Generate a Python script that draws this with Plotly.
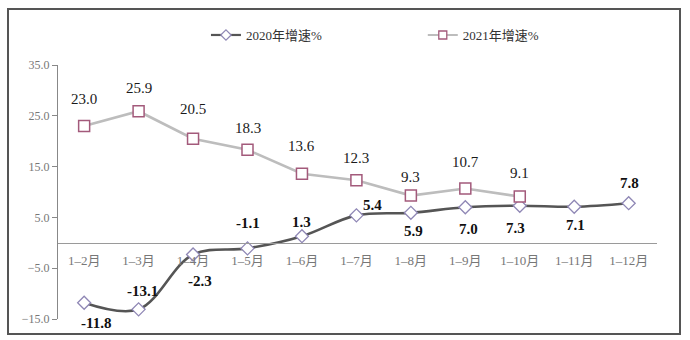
import plotly.graph_objects as go

# Month ranges (cumulative, Jan to ...)
months = ["1–2月", "1–3月", "1–4月", "1–5月", "1–6月", "1–7月",
          "1–8月", "1–9月", "1–10月", "1–11月", "1–12月"]

# Growth rates, %
growth_2020 = [-11.8, -13.1, -2.3, -1.1, 1.3, 5.4, 5.9, 7.0, 7.3, 7.1, 7.8]
growth_2021 = [23.0, 25.9, 20.5, 18.3, 13.6, 12.3, 9.3, 10.7, 9.1]

name_2020 = "2020年增速%"
name_2021 = "2021年增速%"

y_ticks = [-15, -5, 5, 15, 25, 35]

# Label offsets in pixels (x, y) for each point
offsets_2020 = [(12, -20), (4, 18), (7, -27), (0, 25), (0, 14), (16, 10),
                (3, -18), (3, -22), (-4, -22), (1, -18), (1, 20)]
offsets_2021 = [(0, 27), (0, 23), (0, 30), (0, 22), (0, 28), (0, 22),
                (0, 19), (0, 26), (0, 24)]

SERIF = "Liberation Serif, Times New Roman, Noto Sans CJK SC, serif"

C2020_LINE, C2020_MARK = "#555555", "#8f87b5"
C2021_LINE, C2021_MARK = "#bdbdbd", "#a35a7b"

fig = go.Figure()

fig.add_trace(go.Scatter(
    x=months, y=growth_2020, name=name_2020, showlegend=False,
    mode="lines+markers",
    line=dict(color=C2020_LINE, width=2.6, shape="spline", smoothing=1.0),
    marker=dict(symbol="diamond", size=10, color="white",
                line=dict(color=C2020_MARK, width=1.3)),
    cliponaxis=False,
))

fig.add_trace(go.Scatter(
    x=months[:len(growth_2021)], y=growth_2021, name=name_2021, showlegend=False,
    mode="lines+markers",
    line=dict(color=C2021_LINE, width=2.6),
    marker=dict(symbol="square", size=11, color="white",
                line=dict(color=C2021_MARK, width=1.5)),
    cliponaxis=False,
))

# Compact legend keys (smaller symbols than on the plot)
fig.add_trace(go.Scatter(
    x=[None], y=[None], name=name_2020, legend="legend",
    mode="lines+markers",
    line=dict(color=C2020_LINE, width=2.2),
    marker=dict(symbol="diamond", size=8, color="white",
                line=dict(color=C2020_MARK, width=1.2)),
))
fig.add_trace(go.Scatter(
    x=[None], y=[None], name=name_2021, legend="legend2",
    mode="lines+markers",
    line=dict(color=C2021_LINE, width=2.2),
    marker=dict(symbol="square", size=8, color="white",
                line=dict(color=C2021_MARK, width=1.3)),
))

annotations = []
for i, v in enumerate(growth_2020):
    dx, dy = offsets_2020[i]
    annotations.append(dict(
        x=months[i], y=v, text=f"{v:.1f}", showarrow=False,
        xshift=dx, yshift=dy,
        font=dict(family=SERIF, size=15, color="#111111", weight="bold"),
    ))
for i, v in enumerate(growth_2021):
    dx, dy = offsets_2021[i]
    annotations.append(dict(
        x=months[i], y=v, text=f"{v:.1f}", showarrow=False,
        xshift=dx, yshift=dy,
        font=dict(family=SERIF, size=15, color="#1a1a1a"),
    ))

y_min, y_max = -15, 35
zero_pos = (0 - y_min) / (y_max - y_min)

legend_style = dict(
    orientation="h", xanchor="left", y=1.118, yanchor="middle",
    font=dict(family=SERIF, size=13, color="#333333"),
    itemwidth=30,
    bgcolor="rgba(0,0,0,0)",
)

fig.update_layout(
    width=690, height=340,
    margin=dict(l=58, r=33, t=65, b=21),
    paper_bgcolor="white", plot_bgcolor="white",
    font=dict(family=SERIF),
    showlegend=True,
    legend=dict(x=0.247, **legend_style),
    legend2=dict(x=0.609, **legend_style),
    xaxis=dict(
        type="category", range=[-0.48, 10.52],
        anchor="free", position=zero_pos,
        showline=True, linecolor="#9a9a9a", linewidth=1,
        showgrid=False, zeroline=False,
        ticks="outside", ticklen=6, tickcolor="rgba(0,0,0,0)",
        tickfont=dict(family=SERIF, size=13, color="#777777"),
    ),
    yaxis=dict(
        range=[y_min, y_max],
        tickvals=y_ticks, tickformat=".1f",
        showline=True, linecolor="#888888", linewidth=1,
        showgrid=False, zeroline=False,
        ticks="outside", ticklen=5, tickcolor="#888888",
        tickfont=dict(family=SERIF, size=12, color="#777777"),
    ),
    annotations=annotations,
    shapes=[dict(
        type="rect", xref="paper", yref="paper",
        x0=(8 - 58) / 599, x1=(680 - 58) / 599,
        y0=(319 - 334) / 254, y1=(319 - 9) / 254,
        line=dict(color="#555555", width=2), fillcolor="rgba(0,0,0,0)",
        layer="below",
    )],
)

fig.write_html("out.html")
